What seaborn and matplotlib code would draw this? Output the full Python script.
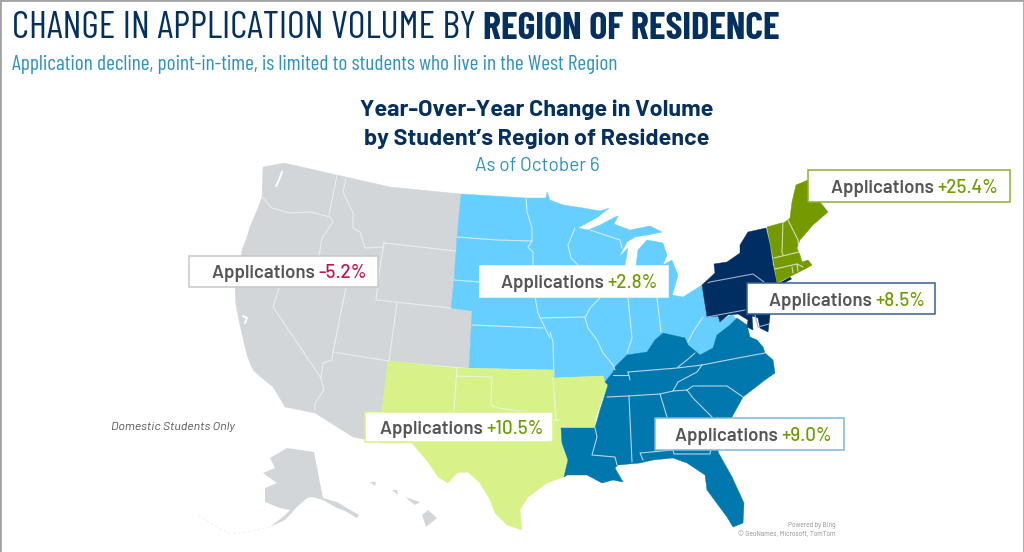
#!/usr/bin/env python3
import matplotlib
matplotlib.use("Agg")
import matplotlib.pyplot as plt
from matplotlib.patches import Rectangle
import pandas as pd
import seaborn as sns

# region figures
regions = ["West", "Midwest", "South Central", "Southeast", "Mid Atlantic", "New England"]
app_change = [-5.2, 2.8, 10.5, 9.0, 8.5, 25.4]
region_colors = ["#d3d6d9", "#66cfff", "#d8f28a", "#0077ad", "#002d62", "#759a00"]
box_edges = ["#c8c8c8", "#ffffff", "#d8f28a", "#7ab8d6", "#3a5f90", "#8fb030"]

# outlines, in image pixels
west = [(263,167),(284,163),(337,175),(390,187),(461,194),(457,237),(454,280),(451,308),(472,311),(469,368),
        (388,361),(382,410),(379,441),(363,439),(353,437),(315,413),(285,407),(278,395),(273,387),(262,378),(253,370),
        (248,358),(245,347),(240,325),(236,305),(235,290),(240,265),(242,250),(247,237),(250,227),(258,208),(262,197)]
midwest = [(461,194),(526,198),(546,198),(547,192),(550,200),(563,205),(583,208),(600,211),(609,208),(598,217),
           (578,228),(588,230),(600,225),(615,217),(618,216),(614,224),(630,230),(650,226),(662,232),(648,235),
           (635,237),(627,242),(619,257),(628,248),(625,265),(622,295),(628,297),(633,290),(636,265),(638,250),
           (647,240),(663,243),(667,255),(663,265),(672,260),(678,275),(673,293),(672,295),(683,297),(702,285),
           (707,317),(718,316),(720,322),(732,314),(737,320),(730,325),(717,335),(713,348),(700,355),(688,345),
           (685,338),(663,333),(655,340),(647,352),(627,355),(615,367),(613,372),(605,382),(603,376),(553,378),
           (553,370),(469,368),(472,311),(451,308),(454,280),(457,237)]
south_central = [(388,361),(457,368),(553,370),(553,378),(603,376),(605,382),(610,383),(603,397),(596,417),(595,428),
                 (561,428),(562,443),(568,460),(564,477),(547,483),(528,497),(520,510),(522,530),(507,525),(495,513),
                 (490,500),(480,483),(468,472),(457,473),(448,483),(438,477),(428,462),(412,443),(379,443),(382,410)]
southeast = [(561,428),(595,428),(600,410),(608,385),(605,382),(613,372),(615,367),(627,355),(647,352),(655,340),
             (663,333),(685,338),(688,345),(700,355),(713,348),(717,335),(730,325),(737,318),(747,325),(750,337),
             (757,340),(763,347),(765,353),(773,360),(775,373),(765,380),(743,397),(732,417),(722,435),(718,452),
             (732,477),(744,503),(743,523),(733,527),(727,517),(707,490),(705,475),(687,463),(673,458),(653,460),
             (640,463),(618,465),(615,468),(623,482),(613,480),(602,483),(587,475),(567,475),(564,477),(568,460),
             (562,443)]
mid_atlantic = [(702,285),(715,273),(714,264),(727,262),(740,253),(740,245),(748,232),(766,228),(770,245),(773,265),
                (777,283),(777,300),(770,315),(768,332),(760,328),(758,318),(752,316),(753,330),(747,327),(748,320),
                (738,314),(728,315),(720,322),(718,316),(707,317)]
new_england = [(767,227),(785,222),(790,218),(792,202),(796,185),(808,180),(820,180),(820,202),(828,212),(813,225),
               (800,240),(797,248),(800,255),(802,262),(808,260),(812,265),(807,268),(797,273),(777,283),(773,258)]
alaska = [(270,458),(287,448),(314,452),(323,498),(337,502),(352,511),(359,515),(357,518),(345,511),(337,508),(323,500),
          (312,497),(307,498),(297,507),(285,520),(270,527),(284,516),(290,510),(280,508),(265,502),(265,488),
          (277,483),(263,473),(275,468)]
hawaii = [[(422,515),(428,510),(437,518),(426,527)],
          [(405,497),(420,502),(415,505)],
          [(392,490),(397,490),(398,495)],
          [(370,482),(376,482),(375,486)]]
long_island = [(779,283),(790,277),(792,279),(781,285)]
region_shapes = [west, midwest, south_central, southeast, mid_atlantic, new_england]

state_lines = [
    # west
    [(262,197),(272,208),(290,213),(310,212),(330,217)],
    [(337,175),(329,215)],
    [(330,217),(333,222),(322,238),(318,262)],
    [(346,178),(343,192),(353,213),(353,228),(360,232),(365,248),(383,247)],
    [(384,243),(456,251)],
    [(384,243),(380,267),(376,300),(451,308)],
    [(397,303),(389,361)],
    [(333,352),(389,361)],
    [(346,287),(333,352)],
    [(279,288),(273,307),(321,378)],
    [(333,352),(332,360),(323,363),(321,378)],
    [(321,378),(324,390),(315,403),(315,410)],
    # midwest
    [(457,237),(497,240),(532,241)],
    [(526,198),(527,212),(532,228),(532,241),(528,247),(533,252),(533,265)],
    [(454,280),(480,282)],
    [(472,325),(543,328)],
    [(535,297),(538,313),(545,328),(550,338)],
    [(550,332),(553,342),(554,377)],
    [(541,318),(585,317)],
    [(575,228),(568,245),(571,258),(578,265)],
    [(590,230),(620,240),(622,248)],
    [(600,298),(590,308),(585,318)],
    [(585,318),(588,328),(597,340),(603,353),(613,365),(615,370)],
    [(628,298),(632,338),(627,353)],
    [(657,298),(661,332)],
    [(703,317),(693,332),(688,342)],
    # south central
    [(457,368),(454,410)],
    [(456,376),(492,377),(491,405),(498,408),(527,412),(555,420),(560,420)],
    [(553,378),(556,420)],
    # southeast
    [(628,372),(677,368),(702,365),(738,358),(765,353)],
    [(613,375),(628,375)],
    [(628,372),(630,380)],
    [(607,397),(628,396),(660,394),(673,391),(687,390)],
    [(702,365),(697,372),(678,382),(673,391)],
    [(695,353),(687,360),(678,367)],
    [(687,390),(693,386),(713,386),(727,386),(743,397)],
    [(687,390),(693,398),(712,417)],
    [(629,396),(632,462)],
    [(660,394),(667,417)],
    [(643,460),(640,453),(673,450),(674,454),(710,454),(711,448)],
    [(617,465),(615,457),(592,455),(597,437),(595,428)],
    # new england
    [(783,220),(782,252),(783,255)],
    [(787,218),(798,240),(799,250)],
    [(774,258),(799,252)],
    [(775,269),(797,264),(803,267)],
    [(792,267),(793,273)],
    [(797,264),(798,271)],
]
navy_lines = [
    [(708,283),(710,282),(753,274),(764,282)],
    [(707,317),(745,310)],
    [(755,315),(758,327),(769,324)],
]
water_lines = [
    [(282,172),(279,180),(276,186)],
    [(243,316),(247,318),(245,323)],
]
aleutians = [[(270,527),(247,532),(230,534),(197,515)]]

title_font = ["Barlow Condensed", "Roboto", "DejaVu Sans"]
body_font = ["Barlow", "Roboto", "DejaVu Sans"]

sns.set_theme(style="white")


def lines_frame(lines):
    rows = []
    for k, line in enumerate(lines):
        for x, y in line:
            rows.append({"line": k, "x": x, "y": y})
    return pd.DataFrame(rows)


fig = plt.figure(figsize=(10.24, 5.52), dpi=100)
ax = fig.add_axes([0, 0, 1, 1])

palette = sns.color_palette(region_colors)
for shape, color in zip(region_shapes, palette):
    xs, ys = zip(*shape)
    ax.fill(xs, ys, color=color, lw=0.3, zorder=1)
for shape in [alaska] + hawaii:
    xs, ys = zip(*shape)
    ax.fill(xs, ys, color=palette[0], lw=0, zorder=1)
xs, ys = zip(*long_island)
ax.fill(xs, ys, color=palette[4], lw=0, zorder=1)

sns.lineplot(data=lines_frame(state_lines), x="x", y="y", units="line", estimator=None, sort=False,
             color="#f2f5f6", lw=0.8, alpha=0.75, ax=ax, zorder=2, legend=False)
sns.lineplot(data=lines_frame(navy_lines), x="x", y="y", units="line", estimator=None, sort=False,
             color="#9db0c6", lw=0.8, ax=ax, zorder=2, legend=False)
sns.lineplot(data=lines_frame(water_lines), x="x", y="y", units="line", estimator=None, sort=False,
             color="white", lw=1.4, ax=ax, zorder=2, legend=False)
sns.lineplot(data=lines_frame(aleutians), x="x", y="y", units="line", estimator=None, sort=False,
             color="#eceef0", lw=0.6, ls=(0, (3, 3)), ax=ax, zorder=1, legend=False)

ax.set_xlim(0, 1024)
ax.set_ylim(552, 0)
ax.set_xlabel("")
ax.set_ylabel("")
ax.set_xticks([])
ax.set_yticks([])
for s in ax.spines.values():
    s.set_color("#a3a3a3")
    s.set_linewidth(2)
ax.spines["bottom"].set_visible(False)

# headings
navy = "#04305f"
blue = "#2e92bd"
t1 = ax.text(12, 38, "CHANGE IN APPLICATION VOLUME BY ", family=title_font, fontsize=27.5, color=navy, va="baseline")
ax.annotate("REGION OF RESIDENCE", xy=(1, 0), xycoords=t1, va="bottom", family=title_font, fontweight="bold",
            fontsize=27.5, color=navy)
ax.text(12, 70, "Application decline, point-in-time, is limited to students who live in the West Region",
        family=title_font, fontsize=15.4, color=blue, va="baseline")
ax.text(537, 116, "Year-Over-Year Change in Volume", family=body_font, fontweight="bold", fontsize=16.8,
        color=navy, ha="center", va="baseline")
ax.text(537, 145, "by Student\u2019s Region of Residence", family=body_font, fontweight="bold", fontsize=16.8,
        color=navy, ha="center", va="baseline")
ax.text(537, 171, "As of October 6", family=body_font, fontsize=13.6, color=blue, ha="center", va="baseline")

# callouts
box_x = [189, 480, 365, 655, 747, 808]
box_y = [256, 266, 412, 418, 283, 170]
box_w = [189, 188, 188, 189, 188, 202]
box_h = [31, 31, 30, 32, 31, 32]
text_x = [212, 501, 380, 675, 769, 831]
for i in range(len(regions)):
    ax.add_patch(Rectangle((box_x[i], box_y[i]), box_w[i], box_h[i], fc="white", ec=box_edges[i], lw=1.1, zorder=3))
    val_color = "#c2134f" if app_change[i] < 0 else "#6f9a00"
    yc = box_y[i] + box_h[i] / 2 + 7
    lab = ax.text(text_x[i], yc, "Applications ", family=body_font, fontweight="semibold", fontsize=13.4,
                  color="#555555", va="baseline", zorder=4)
    ax.annotate(f"{app_change[i]:+.1f}%", xy=(1, 0), xycoords=lab, va="bottom", family=body_font,
                fontweight="medium", fontsize=13.6, color=val_color, zorder=4)

ax.text(111, 430, "Domestic Students Only", family=body_font, style="italic", fontsize=8.9, color="#555555", va="baseline")
ax.text(836, 527, "Powered by Bing", family=body_font, fontsize=4.8, color="#8a8a8a", ha="right", va="baseline")
ax.text(836, 536, "\u00a9 GeoNames, Microsoft, TomTom", family=body_font, fontsize=4.8, color="#8a8a8a", ha="right", va="baseline")

fig.savefig("out.png", dpi=100)
